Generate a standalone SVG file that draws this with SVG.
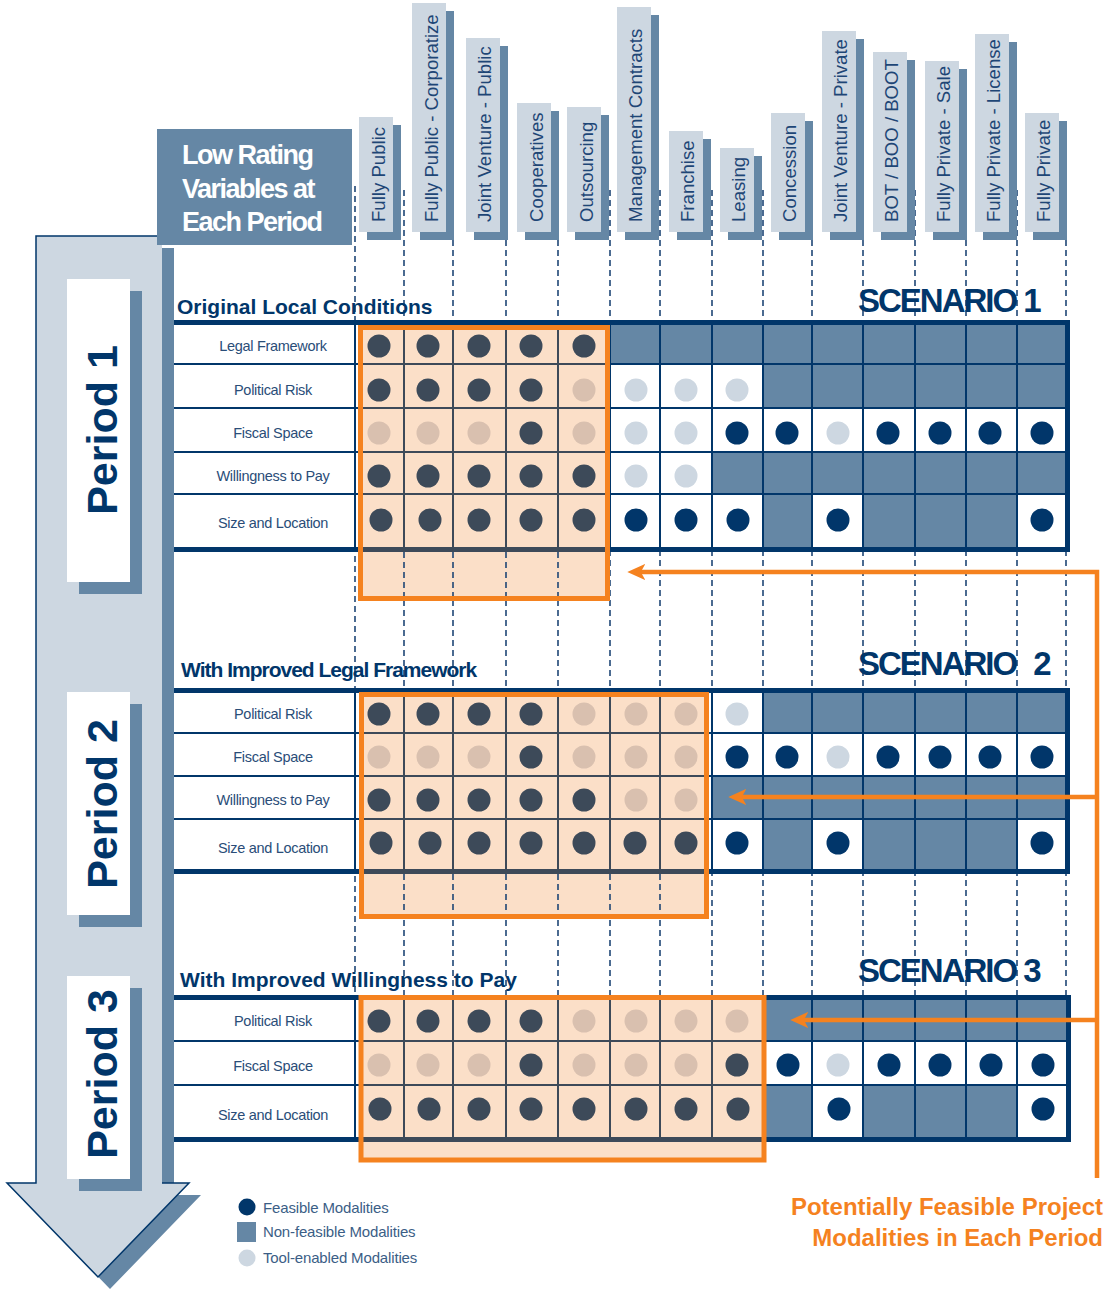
<svg xmlns="http://www.w3.org/2000/svg" width="1106" height="1289" viewBox="0 0 1106 1289">
<style>
.hs{fill:#6587A5}.hb{fill:#CDD7E1}
.ht{font-family:"Liberation Sans",Arial,sans-serif;font-size:18.6px;fill:#1E4676}
.nf{fill:#6587A5}.pe{fill:#FBDFC8}.wh{fill:#fff}
.dn{fill:#01366A}.dl{fill:#CDD7E1}.dd{fill:#3D4A59}.dt{fill:#D9C0AF}
.gl{stroke:#01366A;stroke-width:2;fill:none}
.gg{stroke:#3D4A59;stroke-width:2;fill:none}
.tk{fill:#01366A}.tg{fill:#3D4A59}
.ob{fill:none;stroke:#F5821F;stroke-width:5}
.da{stroke:#1E4676;stroke-width:1.6;stroke-dasharray:6 4;fill:none}
.lb{font-family:"Liberation Sans",Arial,sans-serif;font-size:14.5px;fill:#2A4D78;text-anchor:middle;letter-spacing:-0.3px}
.ti{font-family:"Liberation Sans",Arial,sans-serif;font-weight:bold;fill:#01366A}
.sc{font-family:"Liberation Sans",Arial,sans-serif;font-weight:bold;font-size:33px;fill:#01366A;letter-spacing:-2px}
.pr{font-family:"Liberation Sans",Arial,sans-serif;font-weight:bold;font-size:43px;fill:#01366A;text-anchor:middle}
.lg{font-family:"Liberation Sans",Arial,sans-serif;font-size:15px;fill:#3B5E86;letter-spacing:-0.15px}
.oc{stroke:#F5821F;stroke-width:4.5;fill:none}
</style>
<defs>
<marker id="oa" viewBox="0 0 20 20" refX="7" refY="10" markerWidth="18" markerHeight="18" markerUnits="userSpaceOnUse" orient="auto">
<path d="M0,1 L20,10 L0,19 L5,10 Z" fill="#F5821F"/>
</marker>
</defs>
<rect width="1106" height="1289" fill="#fff"/>

<g id="period-arrow">
<polygon class="hs" points="48,248 174,248 174,1195 201,1195 110,1289 19,1195 48,1195"/>
<polygon class="hb" points="36,236 162,236 162,1183 189,1183 98,1277 7,1183 36,1183"/>
<polyline points="162,236 36,236 36,1183 7,1183 98,1277 189,1183 162,1183" fill="none" stroke="#01366A" stroke-width="1.5"/>
</g>
<g id="period1">
<rect class="hs" x="79" y="291" width="63" height="303"/>
<rect class="wh" x="67" y="279" width="63" height="303"/>
<text class="pr" transform="translate(117,430) rotate(-90)">Period 1</text>
</g>
<g id="period2">
<rect class="hs" x="79" y="704" width="63" height="223"/>
<rect class="wh" x="67" y="692" width="63" height="223"/>
<text class="pr" transform="translate(117,804) rotate(-90)">Period 2</text>
</g>
<g id="period3">
<rect class="hs" x="79" y="988" width="63" height="203"/>
<rect class="wh" x="67" y="976" width="63" height="203"/>
<text class="pr" transform="translate(117,1074) rotate(-90)">Period 3</text>
</g>

<g id="low-rating">
<rect x="157" y="129" width="195" height="116" fill="#6587A5"/>
<text font-family="Liberation Sans, Arial, sans-serif" font-weight="bold" font-size="27" fill="#fff" letter-spacing="-1.5"><tspan x="182" y="164">Low Rating</tspan><tspan x="182" y="198">Variables at</tspan><tspan x="182" y="231">Each Period</tspan></text>
</g>

<path class="da" d="M355,186V1139M404,190V1139M453,190V1139M506,190V1139M558,190V1139M610,190V1139M660,190V1139M712,190V1139M763,190V1139M812,190V1139M863,190V1139M915,190V1139M966,190V1139M1017,190V1139M1066,190V1139"/>

<g id="h0"><rect class="hs" x="367" y="125" width="34" height="115"/><rect class="hb" x="359" y="117" width="34" height="115"/><text class="ht" transform="translate(385,222) rotate(-90)">Fully Public</text></g>
<g id="h1"><rect class="hs" x="420" y="11" width="34" height="229"/><rect class="hb" x="412" y="3" width="34" height="229"/><text class="ht" transform="translate(438,222) rotate(-90)">Fully Public - Corporatize</text></g>
<g id="h2"><rect class="hs" x="474" y="46" width="34" height="194"/><rect class="hb" x="466" y="38" width="34" height="194"/><text class="ht" transform="translate(491,222) rotate(-90)">Joint Venture - Public</text></g>
<g id="h3"><rect class="hs" x="525" y="111" width="34" height="129"/><rect class="hb" x="517" y="103" width="34" height="129"/><text class="ht" transform="translate(543,222) rotate(-90)">Cooperatives</text></g>
<g id="h4"><rect class="hs" x="575" y="115" width="34" height="125"/><rect class="hb" x="567" y="107" width="34" height="125"/><text class="ht" transform="translate(593,222) rotate(-90)">Outsourcing</text></g>
<g id="h5"><rect class="hs" x="625" y="15" width="34" height="225"/><rect class="hb" x="617" y="7" width="34" height="225"/><text class="ht" transform="translate(642,222) rotate(-90)">Management Contracts</text></g>
<g id="h6"><rect class="hs" x="677" y="139" width="34" height="101"/><rect class="hb" x="669" y="131" width="34" height="101"/><text class="ht" transform="translate(694,222) rotate(-90)">Franchise</text></g>
<g id="h7"><rect class="hs" x="728" y="156" width="34" height="84"/><rect class="hb" x="720" y="148" width="34" height="84"/><text class="ht" transform="translate(745,222) rotate(-90)">Leasing</text></g>
<g id="h8"><rect class="hs" x="779" y="121" width="34" height="119"/><rect class="hb" x="771" y="113" width="34" height="119"/><text class="ht" transform="translate(796,222) rotate(-90)">Concession</text></g>
<g id="h9"><rect class="hs" x="830" y="39" width="34" height="201"/><rect class="hb" x="822" y="31" width="34" height="201"/><text class="ht" transform="translate(847,222) rotate(-90)">Joint Venture - Private</text></g>
<g id="h10"><rect class="hs" x="881" y="60" width="34" height="180"/><rect class="hb" x="873" y="52" width="34" height="180"/><text class="ht" transform="translate(898,222) rotate(-90)">BOT / BOO / BOOT</text></g>
<g id="h11"><rect class="hs" x="933" y="69" width="34" height="171"/><rect class="hb" x="925" y="61" width="34" height="171"/><text class="ht" transform="translate(950,222) rotate(-90)">Fully Private - Sale</text></g>
<g id="h12"><rect class="hs" x="983" y="42" width="34" height="198"/><rect class="hb" x="975" y="34" width="34" height="198"/><text class="ht" transform="translate(1000,222) rotate(-90)">Fully Private - License</text></g>
<g id="h13"><rect class="hs" x="1033" y="121" width="34" height="119"/><rect class="hb" x="1025" y="113" width="34" height="119"/><text class="ht" transform="translate(1050,222) rotate(-90)">Fully Private</text></g>

<g id="scenario1">
<text class="ti" x="177" y="314" font-size="21">Original Local Conditions</text>
<text class="sc" x="858" y="312">SCENARIO 1</text>
<rect class="wh" x="174" y="325" width="892" height="222"/>
<rect class="pe" x="360.5" y="327.5" width="247" height="271"/>
<rect class="nf" x="610" y="325" width="456" height="39"/>
<rect class="nf" x="763" y="364" width="303" height="44"/>
<rect class="nf" x="712" y="452" width="354" height="42"/>
<rect class="nf" x="763" y="494" width="49" height="53"/>
<rect class="nf" x="863" y="494" width="154" height="53"/>
<path class="da" d="M404,552V598M453,552V598M506,552V598M558,552V598"/>
<path class="gl" d="M174,364H1066M174,408H1066M174,452H1066M174,494H1066M355,325V547M610,325V547M660,325V547M712,325V547M763,325V547M812,325V547M863,325V547M915,325V547M966,325V547M1017,325V547"/>
<path class="gg" d="M363,364H605M363,408H605M363,452H605M363,494H605M404,325V547M453,325V547M506,325V547M558,325V547"/>
<rect class="tk" x="174" y="320" width="896" height="5"/>
<rect class="tk" x="174" y="547" width="896" height="5"/>
<rect class="tg" x="363" y="547" width="242" height="5"/>
<rect class="tk" x="1065" y="320" width="5" height="232"/>
<text class="lb" x="273" y="351">Legal Framework</text>
<text class="lb" x="273" y="395">Political Risk</text>
<text class="lb" x="273" y="438">Fiscal Space</text>
<text class="lb" x="273" y="481">Willingness to Pay</text>
<text class="lb" x="273" y="528">Size and Location</text>
<g>
<circle class="dd" cx="379" cy="346" r="11.5"/><circle class="dd" cx="428" cy="346" r="11.5"/><circle class="dd" cx="479" cy="346" r="11.5"/><circle class="dd" cx="531" cy="346" r="11.5"/><circle class="dd" cx="584" cy="346" r="11.5"/>
<circle class="dd" cx="379" cy="390" r="11.5"/><circle class="dd" cx="428" cy="390" r="11.5"/><circle class="dd" cx="479" cy="390" r="11.5"/><circle class="dd" cx="531" cy="390" r="11.5"/><circle class="dt" cx="584" cy="390" r="11.5"/><circle class="dl" cx="636" cy="390" r="11.5"/><circle class="dl" cx="686" cy="390" r="11.5"/><circle class="dl" cx="737" cy="390" r="11.5"/>
<circle class="dt" cx="379" cy="433" r="11.5"/><circle class="dt" cx="428" cy="433" r="11.5"/><circle class="dt" cx="479" cy="433" r="11.5"/><circle class="dd" cx="531" cy="433" r="11.5"/><circle class="dt" cx="584" cy="433" r="11.5"/><circle class="dl" cx="636" cy="433" r="11.5"/><circle class="dl" cx="686" cy="433" r="11.5"/><circle class="dn" cx="737" cy="433" r="11.5"/><circle class="dn" cx="787" cy="433" r="11.5"/><circle class="dl" cx="838" cy="433" r="11.5"/><circle class="dn" cx="888" cy="433" r="11.5"/><circle class="dn" cx="940" cy="433" r="11.5"/><circle class="dn" cx="990" cy="433" r="11.5"/><circle class="dn" cx="1042" cy="433" r="11.5"/>
<circle class="dd" cx="379" cy="476" r="11.5"/><circle class="dd" cx="428" cy="476" r="11.5"/><circle class="dd" cx="479" cy="476" r="11.5"/><circle class="dd" cx="531" cy="476" r="11.5"/><circle class="dd" cx="584" cy="476" r="11.5"/><circle class="dl" cx="636" cy="476" r="11.5"/><circle class="dl" cx="686" cy="476" r="11.5"/>
<circle class="dd" cx="381" cy="520" r="11.5"/><circle class="dd" cx="430" cy="520" r="11.5"/><circle class="dd" cx="479" cy="520" r="11.5"/><circle class="dd" cx="531" cy="520" r="11.5"/><circle class="dd" cx="584" cy="520" r="11.5"/><circle class="dn" cx="636" cy="520" r="11.5"/><circle class="dn" cx="686" cy="520" r="11.5"/><circle class="dn" cx="738" cy="520" r="11.5"/><circle class="dn" cx="838" cy="520" r="11.5"/><circle class="dn" cx="1042" cy="520" r="11.5"/>
</g>
<rect class="ob" x="360.5" y="327.5" width="247" height="271"/>
</g>

<g id="scenario2">
<text class="ti" x="181" y="677" font-size="21" letter-spacing="-1">With Improved Legal Framework</text>
<text class="sc" x="858" y="675">SCENARIO <tspan dx="10">2</tspan></text>
<rect class="wh" x="174" y="693" width="892" height="176"/>
<rect class="pe" x="361.5" y="694.5" width="345" height="222"/>
<rect class="nf" x="763" y="693" width="303" height="40"/>
<rect class="nf" x="712" y="776" width="354" height="43"/>
<rect class="nf" x="763" y="819" width="49" height="50"/>
<rect class="nf" x="863" y="819" width="154" height="50"/>
<path class="da" d="M404,874V916M453,874V916M506,874V916M558,874V916M610,874V916M660,874V916"/>
<path class="gl" d="M174,733H1066M174,776H1066M174,819H1066M355,693V869M712,693V869M763,693V869M812,693V869M863,693V869M915,693V869M966,693V869M1017,693V869"/>
<path class="gg" d="M364,733H704M364,776H704M364,819H704M404,693V869M453,693V869M506,693V869M558,693V869M610,693V869M660,693V869"/>
<rect class="tk" x="174" y="688" width="896" height="5"/>
<rect class="tk" x="174" y="869" width="896" height="5"/>
<rect class="tg" x="364" y="869" width="340" height="5"/>
<rect class="tk" x="1065" y="688" width="5" height="186"/>
<text class="lb" x="273" y="719">Political Risk</text>
<text class="lb" x="273" y="762">Fiscal Space</text>
<text class="lb" x="273" y="805">Willingness to Pay</text>
<text class="lb" x="273" y="853">Size and Location</text>
<g>
<circle class="dd" cx="379" cy="714" r="11.5"/><circle class="dd" cx="428" cy="714" r="11.5"/><circle class="dd" cx="479" cy="714" r="11.5"/><circle class="dd" cx="531" cy="714" r="11.5"/><circle class="dt" cx="584" cy="714" r="11.5"/><circle class="dt" cx="636" cy="714" r="11.5"/><circle class="dt" cx="686" cy="714" r="11.5"/><circle class="dl" cx="737" cy="714" r="11.5"/>
<circle class="dt" cx="379" cy="757" r="11.5"/><circle class="dt" cx="428" cy="757" r="11.5"/><circle class="dt" cx="479" cy="757" r="11.5"/><circle class="dd" cx="531" cy="757" r="11.5"/><circle class="dt" cx="584" cy="757" r="11.5"/><circle class="dt" cx="636" cy="757" r="11.5"/><circle class="dt" cx="686" cy="757" r="11.5"/><circle class="dn" cx="737" cy="757" r="11.5"/><circle class="dn" cx="787" cy="757" r="11.5"/><circle class="dl" cx="838" cy="757" r="11.5"/><circle class="dn" cx="888" cy="757" r="11.5"/><circle class="dn" cx="940" cy="757" r="11.5"/><circle class="dn" cx="990" cy="757" r="11.5"/><circle class="dn" cx="1042" cy="757" r="11.5"/>
<circle class="dd" cx="379" cy="800" r="11.5"/><circle class="dd" cx="428" cy="800" r="11.5"/><circle class="dd" cx="479" cy="800" r="11.5"/><circle class="dd" cx="531" cy="800" r="11.5"/><circle class="dd" cx="584" cy="800" r="11.5"/><circle class="dt" cx="636" cy="800" r="11.5"/><circle class="dt" cx="686" cy="800" r="11.5"/>
<circle class="dd" cx="381" cy="843" r="11.5"/><circle class="dd" cx="430" cy="843" r="11.5"/><circle class="dd" cx="479" cy="843" r="11.5"/><circle class="dd" cx="531" cy="843" r="11.5"/><circle class="dd" cx="584" cy="843" r="11.5"/><circle class="dd" cx="635" cy="843" r="11.5"/><circle class="dd" cx="686" cy="843" r="11.5"/><circle class="dn" cx="737" cy="843" r="11.5"/><circle class="dn" cx="838" cy="843" r="11.5"/><circle class="dn" cx="1042" cy="843" r="11.5"/>
</g>
<rect class="ob" x="361.5" y="694.5" width="345" height="222"/>
</g>

<g id="scenario3">
<text class="ti" x="180" y="987" font-size="21">With Improved Willingness to Pay</text>
<text class="sc" x="858" y="982">SCENARIO 3</text>
<rect class="wh" x="174" y="1000" width="892" height="137"/>
<rect class="pe" x="361" y="997.5" width="403" height="162.5"/>
<rect class="nf" x="763" y="1000" width="303" height="41"/>
<rect class="nf" x="763" y="1085" width="49" height="52"/>
<rect class="nf" x="863" y="1085" width="154" height="52"/>
<path class="gl" d="M174,1041H1066M174,1085H1066M355,1000V1137M763,1000V1137M812,1000V1137M863,1000V1137M915,1000V1137M966,1000V1137M1017,1000V1137"/>
<path class="gg" d="M363,1041H762M363,1085H762M404,1000V1137M453,1000V1137M506,1000V1137M558,1000V1137M610,1000V1137M660,1000V1137M712,1000V1137"/>
<rect class="tk" x="174" y="995" width="896" height="5"/>
<rect class="tk" x="174" y="1137" width="896" height="5"/>
<rect class="tg" x="363" y="1137" width="399" height="5"/>
<rect class="tk" x="1066" y="995" width="5" height="147"/>
<text class="lb" x="273" y="1026">Political Risk</text>
<text class="lb" x="273" y="1071">Fiscal Space</text>
<text class="lb" x="273" y="1120">Size and Location</text>
<g>
<circle class="dd" cx="379" cy="1021" r="11.5"/><circle class="dd" cx="428" cy="1021" r="11.5"/><circle class="dd" cx="479" cy="1021" r="11.5"/><circle class="dd" cx="531" cy="1021" r="11.5"/><circle class="dt" cx="584" cy="1021" r="11.5"/><circle class="dt" cx="636" cy="1021" r="11.5"/><circle class="dt" cx="686" cy="1021" r="11.5"/><circle class="dt" cx="737" cy="1021" r="11.5"/>
<circle class="dt" cx="379" cy="1065" r="11.5"/><circle class="dt" cx="428" cy="1065" r="11.5"/><circle class="dt" cx="479" cy="1065" r="11.5"/><circle class="dd" cx="531" cy="1065" r="11.5"/><circle class="dt" cx="584" cy="1065" r="11.5"/><circle class="dt" cx="636" cy="1065" r="11.5"/><circle class="dt" cx="686" cy="1065" r="11.5"/><circle class="dd" cx="737" cy="1065" r="11.5"/><circle class="dn" cx="788" cy="1065" r="11.5"/><circle class="dl" cx="838" cy="1065" r="11.5"/><circle class="dn" cx="889" cy="1065" r="11.5"/><circle class="dn" cx="940" cy="1065" r="11.5"/><circle class="dn" cx="991" cy="1065" r="11.5"/><circle class="dn" cx="1043" cy="1065" r="11.5"/>
<circle class="dd" cx="380" cy="1109" r="11.5"/><circle class="dd" cx="429" cy="1109" r="11.5"/><circle class="dd" cx="479" cy="1109" r="11.5"/><circle class="dd" cx="531" cy="1109" r="11.5"/><circle class="dd" cx="584" cy="1109" r="11.5"/><circle class="dd" cx="636" cy="1109" r="11.5"/><circle class="dd" cx="686" cy="1109" r="11.5"/><circle class="dd" cx="738" cy="1109" r="11.5"/><circle class="dn" cx="839" cy="1109" r="11.5"/><circle class="dn" cx="1043" cy="1109" r="11.5"/>
</g>
<rect class="ob" x="361" y="997.5" width="403" height="162.5"/>
</g>

<g id="connectors">
<path class="oc" d="M1097,1178V572H639" marker-end="url(#oa)"/>
<path class="oc" d="M1097,797H740" marker-end="url(#oa)"/>
<path class="oc" d="M1097,1020H802" marker-end="url(#oa)"/>
</g>

<g id="feasible-note">
<text font-family="Liberation Sans, Arial, sans-serif" font-weight="bold" font-size="24" fill="#F5821F" text-anchor="end"><tspan x="1103" y="1215">Potentially Feasible Project</tspan><tspan x="1103" y="1246">Modalities in Each Period</tspan></text>
</g>

<g id="legend">
<circle class="dn" cx="247" cy="1207" r="8.5"/>
<text class="lg" x="263" y="1213">Feasible Modalities</text>
<rect class="nf" x="237" y="1222" width="19" height="20"/>
<text class="lg" x="263" y="1237">Non-feasible Modalities</text>
<circle class="dl" cx="247" cy="1258" r="8.5"/>
<text class="lg" x="263" y="1263">Tool-enabled Modalities</text>
</g>
</svg>
